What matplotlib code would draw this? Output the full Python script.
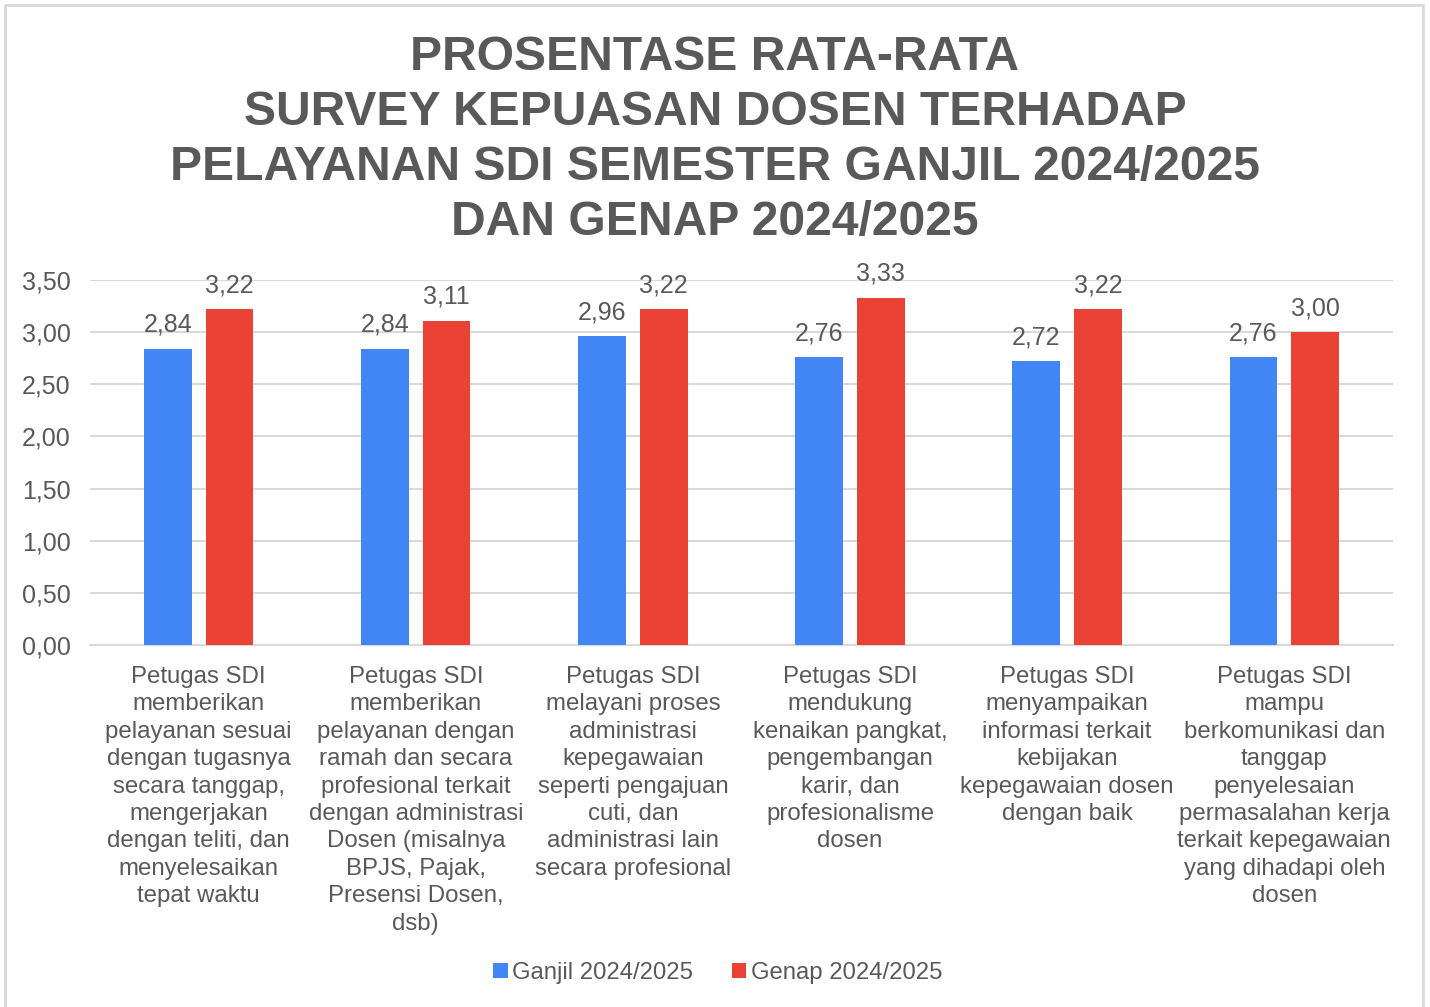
import numpy as np
import matplotlib.pyplot as plt
from matplotlib.patches import Rectangle

plt.rcParams['font.family'] = ['Liberation Sans', 'DejaVu Sans']

title = ("PROSENTASE RATA-RATA\nSURVEY KEPUASAN DOSEN TERHADAP\n"
         "PELAYANAN SDI SEMESTER GANJIL 2024/2025\nDAN GENAP 2024/2025")

categories = [
    "Petugas SDI\nmemberikan\npelayanan sesuai\ndengan tugasnya\nsecara tanggap,\nmengerjakan\ndengan teliti, dan\nmenyelesaikan\ntepat waktu",
    "Petugas SDI\nmemberikan\npelayanan dengan\nramah dan secara\nprofesional terkait\ndengan administrasi\nDosen (misalnya\nBPJS, Pajak,\nPresensi Dosen,\ndsb)",
    "Petugas SDI\nmelayani proses\nadministrasi\nkepegawaian\nseperti pengajuan\ncuti, dan\nadministrasi lain\nsecara profesional",
    "Petugas SDI\nmendukung\nkenaikan pangkat,\npengembangan\nkarir, dan\nprofesionalisme\ndosen",
    "Petugas SDI\nmenyampaikan\ninformasi terkait\nkebijakan\nkepegawaian dosen\ndengan baik",
    "Petugas SDI\nmampu\nberkomunikasi dan\ntanggap\npenyelesaian\npermasalahan kerja\nterkait kepegawaian\nyang dihadapi oleh\ndosen",
]
ganjil = [2.84, 2.84, 2.96, 2.76, 2.72, 2.76]
genap = [3.22, 3.11, 3.22, 3.33, 3.22, 3.00]
series_names = ["Ganjil 2024/2025", "Genap 2024/2025"]

blue = "#4285F4"
red = "#EA4335"
txt = "#595959"

fig = plt.figure(figsize=(14.3, 10.07), dpi=100)
fig.patches.append(Rectangle((5 / 1430, -0.01), 1418 / 1430, 1 - 5 / 1007 + 0.01,
                             transform=fig.transFigure, fill=False,
                             edgecolor="#D9D9D9", lw=2))

ax = fig.add_axes([0.063, 0.3595, 0.911, 0.3625])
x = np.arange(len(categories))
w = 0.22
off = 0.142
b1 = ax.bar(x - off, ganjil, w, color=blue, label=series_names[0], zorder=3)
b2 = ax.bar(x + off, genap, w, color=red, label=series_names[1], zorder=3)

for bars, vals in [(b1, ganjil), (b2, genap)]:
    for r, v in zip(bars, vals):
        ax.annotate(f"{v:.2f}".replace(".", ","), (r.get_x() + r.get_width() / 2, v),
                    xytext=(0, 8.5), textcoords="offset points", ha="center", va="bottom",
                    fontsize=18, color=txt)

ax.set_xlim(-0.5, len(categories) - 0.5)
ax.set_ylim(0, 3.5)
yt = np.arange(0, 3.51, 0.5)
ax.set_yticks(yt)
ax.set_yticklabels([f"{t:.2f}".replace(".", ",") for t in yt], fontsize=18, color=txt)
ax.set_xticks(x)
ax.set_xticklabels(categories, fontsize=17.3, color=txt, linespacing=1.32, va="top")
ax.tick_params(axis="y", length=0, pad=14)
ax.tick_params(axis="x", length=0, pad=15)
ax.grid(axis="y", color="#D9D9D9", lw=1.5, zorder=0)
for s in ["top", "right", "left"]:
    ax.spines[s].set_visible(False)
ax.spines["bottom"].set_color("#D9D9D9")
ax.spines["bottom"].set_linewidth(1.5)

fig.text(0.5, 1 - 140 / 1007, title, ha="center", va="center", fontsize=34.6,
         fontweight="bold", color=txt, linespacing=1.28)

fig.legend(handles=[b1, b2], labels=series_names, loc="center",
           bbox_to_anchor=(0.502, 1 - 973 / 1007), ncol=2, frameon=False,
           fontsize=17.2, handlelength=0.6, handleheight=0.6, handletextpad=0.2,
           columnspacing=1.6, labelcolor=txt)

fig.savefig("out.png", dpi=100)
